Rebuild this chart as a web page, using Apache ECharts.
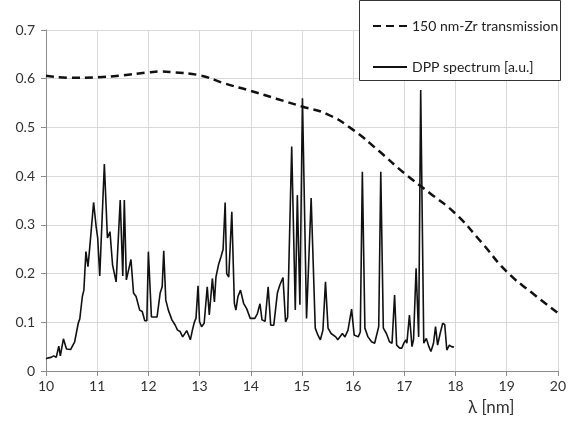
<!DOCTYPE html>
<html>
<head>
<meta charset="utf-8">
<script src="https://cdn.jsdelivr.net/npm/echarts@6/dist/echarts.min.js"></script>
<style>
  html, body { margin: 0; padding: 0; background: #fff; }
  #chart { width: 569px; height: 423px; }
</style>
</head>
<body>
<div id="chart"></div>
<script>
// 150 nm Zr 滤片透过率（虚线）
const zrLambda = [10, 10.5, 11, 11.5, 12, 12.25, 12.5, 13, 13.5, 14, 14.5, 15, 15.5, 16, 16.5, 17, 17.5, 18, 18.5, 19, 19.5, 20];
const zrValue = [0.606, 0.602, 0.603, 0.607, 0.613, 0.615, 0.613, 0.607, 0.590, 0.575, 0.559, 0.543, 0.527, 0.495, 0.452, 0.406, 0.365, 0.323, 0.265, 0.204, 0.160, 0.119];

// DPP 光谱（实线）
const dppLambda = [
  10.00, 10.05, 10.10, 10.15, 10.20, 10.25, 10.28, 10.34, 10.40, 10.48, 10.56, 10.63, 10.66, 10.71, 10.74, 10.78, 10.82, 10.85, 10.93, 10.98,
  11.01, 11.05, 11.14, 11.20, 11.25, 11.30, 11.37, 11.45, 11.50, 11.53, 11.57, 11.66, 11.71, 11.76, 11.83, 11.88, 11.93, 11.97,
  12.00, 12.06, 12.17, 12.20, 12.23, 12.27, 12.30, 12.34, 12.39, 12.46, 12.52, 12.57, 12.62, 12.67, 12.70, 12.75, 12.78, 12.82, 12.86, 12.90, 12.93, 12.97,
  13.00, 13.04, 13.09, 13.15, 13.19, 13.25, 13.29, 13.32, 13.37, 13.42, 13.46, 13.50, 13.53, 13.57, 13.63, 13.68, 13.71, 13.75, 13.80, 13.86, 13.92, 13.99,
  14.08, 14.13, 14.18, 14.22, 14.28, 14.34, 14.39, 14.45, 14.52, 14.57, 14.63, 14.68, 14.72, 14.80, 14.87, 14.91, 14.96,
  15.01, 15.09, 15.18, 15.26, 15.31, 15.36, 15.41, 15.46, 15.51, 15.57, 15.66, 15.70, 15.79, 15.84, 15.90, 15.97,
  16.02, 16.10, 16.14, 16.18, 16.23, 16.29, 16.36, 16.42, 16.50, 16.54, 16.59, 16.65, 16.71, 16.76, 16.81, 16.85, 16.91, 16.95, 16.99,
  17.03, 17.05, 17.10, 17.15, 17.18, 17.23, 17.28, 17.32, 17.38, 17.43, 17.48, 17.52, 17.57, 17.61, 17.65, 17.70, 17.75, 17.79, 17.83, 17.88, 17.92, 17.97
];
const dppValue = [
  0.025, 0.027, 0.028, 0.031, 0.028, 0.051, 0.031, 0.066, 0.045, 0.044, 0.060, 0.098, 0.107, 0.153, 0.166, 0.245, 0.214, 0.248, 0.346, 0.296,
  0.273, 0.195, 0.425, 0.273, 0.286, 0.218, 0.183, 0.351, 0.195, 0.351, 0.187, 0.229, 0.160, 0.153, 0.125, 0.122, 0.103, 0.103,
  0.245, 0.111, 0.111, 0.115, 0.160, 0.173, 0.247, 0.146, 0.125, 0.105, 0.095, 0.084, 0.081, 0.070, 0.070, 0.083, 0.081, 0.064, 0.084, 0.101, 0.108, 0.175,
  0.101, 0.091, 0.098, 0.173, 0.115, 0.190, 0.142, 0.193, 0.218, 0.235, 0.250, 0.346, 0.200, 0.193, 0.327, 0.139, 0.125, 0.153, 0.166, 0.139, 0.128, 0.108,
  0.108, 0.118, 0.138, 0.105, 0.102, 0.173, 0.094, 0.094, 0.160, 0.177, 0.192, 0.101, 0.110, 0.461, 0.125, 0.361, 0.136,
  0.560, 0.108, 0.355, 0.088, 0.074, 0.064, 0.084, 0.183, 0.088, 0.077, 0.070, 0.064, 0.077, 0.070, 0.084, 0.127,
  0.074, 0.070, 0.080, 0.409, 0.088, 0.070, 0.060, 0.057, 0.091, 0.409, 0.088, 0.077, 0.060, 0.057, 0.156, 0.053, 0.047, 0.047, 0.057,
  0.064, 0.057, 0.115, 0.050, 0.064, 0.211, 0.070, 0.577, 0.057, 0.067, 0.050, 0.040, 0.057, 0.091, 0.053, 0.077, 0.098, 0.095, 0.043, 0.053, 0.050, 0.049
];

const seriesNames = ['150 nm-Zr transmission', 'DPP spectrum [a.u.]'];
const xTitle = 'λ [nm]';

const zip = (xs, ys) => xs.map((x, i) => [x, ys[i]]);

const font = 'Lato, "Open Sans", sans-serif';
const chart = echarts.init(document.getElementById('chart'));

chart.setOption({
  animation: false,
  backgroundColor: '#fff',
  textStyle: { fontFamily: font },
  grid: { left: 46, right: 8, top: 30, bottom: 52, containLabel: false },
  xAxis: {
    type: 'value',
    min: 10,
    max: 20,
    interval: 1,
    axisLine: { lineStyle: { color: '#8c8c8c', width: 1 } },
    axisTick: { show: true, length: 5, lineStyle: { color: '#8c8c8c' } },
    axisLabel: { color: '#333', fontSize: 14, margin: 8, fontFamily: font },
    splitLine: { show: true, lineStyle: { color: '#d9d9d9', width: 1 } }
  },
  yAxis: {
    type: 'value',
    min: 0,
    max: 0.7,
    interval: 0.1,
    axisLine: { show: true, lineStyle: { color: '#8c8c8c', width: 1 } },
    axisTick: { show: true, length: 5, lineStyle: { color: '#8c8c8c' } },
    axisLabel: {
      color: '#333', fontSize: 14, margin: 11, fontFamily: font,
      formatter: v => (v === 0 ? '0' : v.toFixed(1))
    },
    splitLine: { show: true, lineStyle: { color: '#d9d9d9', width: 1 } }
  },
  // 图例（白底黑框），只画线不画点
  legend: {
    orient: 'vertical',
    left: 367,
    top: 14,
    itemWidth: 34,
    itemHeight: 14,
    itemGap: 27,
    itemStyle: { opacity: 0 },
    textStyle: { color: '#222', fontSize: 14, fontFamily: font },
    data: seriesNames,
    z: 10
  },
  graphic: [
    {
      type: 'rect',
      z: 5,
      shape: { x: 359.5, y: 0.5, width: 201, height: 80 },
      style: { fill: '#fff', stroke: '#333', lineWidth: 1 }
    },
    {
      type: 'text',
      z: 5,
      left: 468,
      top: 399,
      style: { text: xTitle, fill: '#333', fontSize: 17, fontFamily: font }
    }
  ],
  series: [
    {
      name: seriesNames[0],
      type: 'line',
      smooth: true,
      showSymbol: false,
      symbol: 'none',
      data: zip(zrLambda, zrValue),
      lineStyle: { color: '#111', width: 2.5, type: [8, 5] },
      itemStyle: { color: '#111' }
    },
    {
      name: seriesNames[1],
      type: 'line',
      smooth: false,
      showSymbol: false,
      symbol: 'none',
      data: zip(dppLambda, dppValue),
      lineStyle: { color: '#111', width: 1.6 },
      itemStyle: { color: '#111' }
    }
  ]
});
</script>
</body>
</html>
